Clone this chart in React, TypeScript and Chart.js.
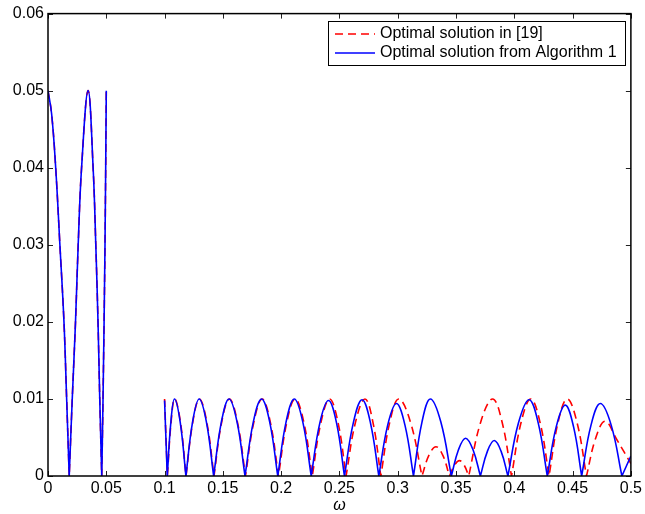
import React, { useEffect, useRef } from 'react';
import { Chart, registerables } from 'chart.js';

Chart.register(...registerables);

const FONT = '"Liberation Sans", Arial, Helvetica, sans-serif';

const seriesLabels = ['Optimal solution in [19]', 'Optimal solution from Algorithm 1'];
const seriesColors = ['#ff0000', '#0000ff'];

const xTickLabels = ['0', '0.05', '0.1', '0.15', '0.2', '0.25', '0.3', '0.35', '0.4', '0.45', '0.5'];
const yTickLabels = ['0', '0.01', '0.02', '0.03', '0.04', '0.05', '0.06'];

// low band (0 .. 0.05): both solutions coincide
const band1X = [0, 0.0031, 0.0066, 0.0102, 0.0137, 0.016, 0.0182, 0.0182, 0.0208, 0.0236, 0.0259, 0.0288, 0.0344, 0.0387, 0.041, 0.0429, 0.0444, 0.0461, 0.0461, 0.0472, 0.0489, 0.05];
const band1Y = [0.05, 0.047, 0.04, 0.03, 0.02, 0.01, 0, 0, 0.01, 0.02, 0.03, 0.04, 0.05, 0.04, 0.03, 0.02, 0.01, 0, 0, 0.01, 0.03, 0.05];

// band 0.1 .. 0.5, solution from Algorithm 1 (blue)
const blueX = [0.1,
  0.1023, 0.1023, 0.1054, 0.1085, 0.1134,
  0.1183, 0.1183, 0.124, 0.1297, 0.1359,
  0.1421, 0.1421, 0.1487, 0.1553, 0.1622,
  0.169, 0.169, 0.1761, 0.1832, 0.1902,
  0.1971, 0.1971, 0.2042, 0.2113, 0.2186,
  0.2258, 0.2258, 0.2332, 0.2406, 0.2475,
  0.2543, 0.2543, 0.2619, 0.2694, 0.2766,
  0.2838, 0.2838, 0.2914, 0.2989, 0.3062,
  0.3135, 0.3135, 0.3208, 0.328, 0.337,
  0.346, 0.346, 0.3521, 0.3582, 0.3646,
  0.3709, 0.3709, 0.3769, 0.3828, 0.3887,
  0.3945, 0.3945, 0.4036, 0.4127, 0.4205,
  0.4283, 0.4283, 0.436, 0.4437, 0.4508,
  0.4578, 0.4578, 0.4658, 0.4738, 0.4831,
  0.4923, 0.4923, 0.5];
const blueY = [0.0098,
  0, 0, 0.007, 0.01, 0.007,
  0, 0, 0.007, 0.01, 0.007,
  0, 0, 0.007, 0.01, 0.007,
  0, 0, 0.007, 0.01, 0.007,
  0, 0, 0.007, 0.01, 0.007,
  0, 0, 0.0069, 0.0098, 0.0069,
  0, 0, 0.0069, 0.0099, 0.0069,
  0, 0, 0.0066, 0.0094, 0.0066,
  0, 0, 0.007, 0.01, 0.007,
  0, 0, 0.0034, 0.0049, 0.0034,
  0, 0, 0.0032, 0.0046, 0.0032,
  0, 0, 0.0069, 0.0099, 0.0069,
  0, 0, 0.0064, 0.0092, 0.0064,
  0, 0, 0.0066, 0.0094, 0.0066,
  0, 0, 0.0026];

// band 0.1 .. 0.5, solution in [19] (red dashed)
const redX = [0.1,
  0.1024, 0.1024, 0.1056, 0.1087, 0.1136,
  0.1184, 0.1184, 0.1242, 0.1299, 0.1362,
  0.1424, 0.1424, 0.149, 0.1556, 0.1625,
  0.1694, 0.1694, 0.1766, 0.1837, 0.1907,
  0.1977, 0.1977, 0.2049, 0.212, 0.2194,
  0.2267, 0.2267, 0.2342, 0.2416, 0.2487,
  0.2557, 0.2557, 0.2638, 0.2719, 0.2787,
  0.2855, 0.2855, 0.2932, 0.3009, 0.3109,
  0.3208, 0.3208, 0.3268, 0.3328, 0.3386,
  0.3444, 0.3444, 0.3487, 0.353, 0.357,
  0.3609, 0.3609, 0.3712, 0.3814, 0.3895,
  0.3976, 0.3976, 0.4059, 0.4141, 0.422,
  0.4298, 0.4298, 0.4376, 0.4454, 0.4537,
  0.4619, 0.4619, 0.47, 0.478, 0.488, 0.5];
const redY = [0.01,
  0, 0, 0.007, 0.01, 0.007,
  0, 0, 0.007, 0.01, 0.007,
  0, 0, 0.007, 0.01, 0.007,
  0, 0, 0.007, 0.01, 0.007,
  0, 0, 0.007, 0.01, 0.007,
  0, 0, 0.007, 0.01, 0.007,
  0, 0, 0.007, 0.01, 0.007,
  0, 0, 0.007, 0.01, 0.007,
  0, 0, 0.0027, 0.0038, 0.0027,
  0, 0, 0.0014, 0.002, 0.0014,
  0, 0, 0.007, 0.01, 0.007,
  0, 0, 0.007, 0.01, 0.007,
  0, 0, 0.007, 0.01, 0.007,
  0, 0, 0.005, 0.0071, 0.0047, 0.0016];

const GAP_X = 0.075;

function zip(xs: number[], ys: number[]) {
  return xs.map((x, i) => ({ x, y: ys[i] }));
}

function buildSeries(xs: number[], ys: number[]) {
  return [...zip(band1X, band1Y), { x: GAP_X, y: null as any }, ...zip(xs, ys)];
}

const framePlugin = {
  id: 'matlabFrame',
  beforeDatasetsDraw(chart: any) {
    const { ctx, chartArea: a, scales } = chart;
    const tl = 5;
    ctx.save();
    ctx.strokeStyle = '#222';
    ctx.lineWidth = 1;
    ctx.beginPath();
    scales.x.ticks.forEach((t: any) => {
      const px = Math.round(scales.x.getPixelForValue(t.value)) + 0.5;
      ctx.moveTo(px, a.bottom);
      ctx.lineTo(px, a.bottom - tl);
      ctx.moveTo(px, a.top);
      ctx.lineTo(px, a.top + tl);
    });
    scales.y.ticks.forEach((t: any) => {
      const py = Math.round(scales.y.getPixelForValue(t.value)) + 0.5;
      ctx.moveTo(a.left, py);
      ctx.lineTo(a.left + tl, py);
      ctx.moveTo(a.right, py);
      ctx.lineTo(a.right - tl, py);
    });
    ctx.stroke();
    ctx.restore();
  },
  afterDatasetsDraw(chart: any) {
    const { ctx, chartArea: a } = chart;
    ctx.save();
    ctx.strokeStyle = '#000';
    ctx.lineWidth = 1.5;
    ctx.strokeRect(a.left, a.top, a.right - a.left, a.bottom - a.top);

    // legend box (north-east, inside axes)
    ctx.font = `16px ${FONT}`;
    const textW = Math.max(...seriesLabels.map((l) => ctx.measureText(l).width));
    const boxW = Math.round(52 + textW + 8);
    const boxH = 44;
    const x0 = Math.round(a.right - 6 - boxW);
    const y0 = Math.round(a.top + 7);
    ctx.fillStyle = '#fff';
    ctx.fillRect(x0, y0, boxW, boxH);
    ctx.lineWidth = 1;
    ctx.strokeStyle = '#000';
    ctx.strokeRect(x0 + 0.5, y0 + 0.5, boxW, boxH);
    seriesLabels.forEach((label, i) => {
      const cy = y0 + 13 + i * 19;
      ctx.beginPath();
      ctx.strokeStyle = seriesColors[i];
      ctx.lineWidth = 1.5;
      ctx.setLineDash(i === 0 ? [8, 5] : []);
      ctx.moveTo(x0 + 7, cy);
      ctx.lineTo(x0 + 47, cy);
      ctx.stroke();
      ctx.setLineDash([]);
      ctx.fillStyle = '#000';
      ctx.textBaseline = 'middle';
      ctx.textAlign = 'left';
      ctx.fillText(label, x0 + 52, cy);
    });
    ctx.restore();
  },
};

export default function App() {
  const ref = useRef<HTMLCanvasElement | null>(null);

  useEffect(() => {
    if (!ref.current) return;
    const tickFont = { family: FONT, size: 16 };
    const chart = new Chart(ref.current, {
      type: 'line',
      data: {
        datasets: [
          {
            label: seriesLabels[1],
            data: buildSeries(blueX, blueY),
            borderColor: seriesColors[1],
            borderWidth: 1.6,
            pointRadius: 0,
            tension: 0.4,
            spanGaps: false,
            fill: false,
            order: 1,
          },
          {
            label: seriesLabels[0],
            data: buildSeries(redX, redY),
            borderColor: seriesColors[0],
            borderWidth: 1.6,
            borderDash: [8, 5],
            pointRadius: 0,
            tension: 0.4,
            spanGaps: false,
            fill: false,
            order: 2,
          },
        ],
      },
      options: {
        animation: false,
        responsive: false,
        devicePixelRatio: 1,
        layout: { padding: { left: 0, right: 11, top: 12, bottom: 0 } },
        plugins: { legend: { display: false }, tooltip: { enabled: false } },
        scales: {
          x: {
            type: 'linear',
            min: 0,
            max: 0.5,
            grid: { display: false, drawTicks: false },
            border: { display: false },
            ticks: {
              stepSize: 0.05,
              autoSkip: false,
              maxRotation: 0,
              padding: 3,
              color: '#000',
              font: tickFont,
              callback: (_v: any, i: number) => xTickLabels[i],
            },
            title: {
              display: true,
              text: 'ω',
              color: '#000',
              font: { family: FONT, size: 16, style: 'italic', lineHeight: 1 },
              padding: 0,
            },
            afterFit: (s: any) => {
              s.height = 38;
            },
          },
          y: {
            type: 'linear',
            min: 0,
            max: 0.06,
            grid: { display: false, drawTicks: false },
            border: { display: false },
            ticks: {
              stepSize: 0.01,
              autoSkip: false,
              padding: 4,
              color: '#000',
              font: tickFont,
              callback: (_v: any, i: number) => yTickLabels[i],
            },
            afterFit: (s: any) => {
              s.width = 48;
            },
          },
        },
      },
      plugins: [framePlugin],
    } as any);
    return () => chart.destroy();
  }, []);

  return (
    <div style={{ position: 'absolute', left: 0, top: 0, width: 645, height: 514, background: '#fff' }}>
      <canvas ref={ref} width={645} height={514} style={{ display: 'block' }} />
    </div>
  );
}
